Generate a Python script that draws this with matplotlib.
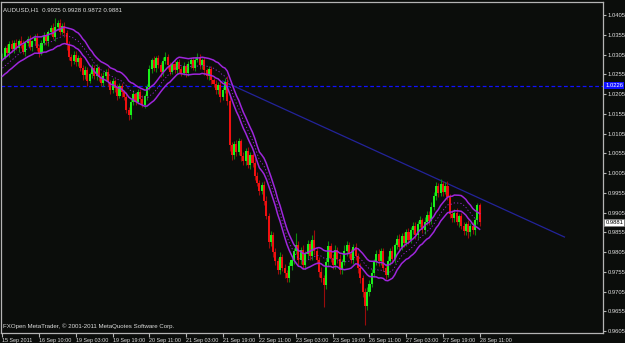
import numpy as np
import pandas as pd
import matplotlib
matplotlib.use("Agg")
import matplotlib.pyplot as plt
from matplotlib.transforms import blended_transform_factory

plt.rcParams['font.family'] = ['Liberation Sans', 'DejaVu Sans']

# --- data (AUDUSD H1) ---
header = "AUDUSD,H1  0.9925 0.9928 0.9872 0.9881"
footer = "FXOpen MetaTrader, \u00a9 2001-2011 MetaQuotes Software Corp."

time_labels = ["15 Sep 2011", "16 Sep 10:00", "19 Sep 03:00", "19 Sep 19:00",
               "20 Sep 11:00", "21 Sep 03:00", "21 Sep 19:00", "22 Sep 11:00",
               "23 Sep 03:00", "23 Sep 19:00", "26 Sep 11:00", "27 Sep 03:00",
               "27 Sep 19:00", "28 Sep 11:00"]
label_step = 16  # one time label every 16 bars

# bars before the first visible candle, only used to warm up the moving average
prior_closes = [1.0245, 1.0252, 1.0248, 1.0258, 1.0262, 1.0255, 1.0268,
                1.0275, 1.0270, 1.0282, 1.0290, 1.0285, 1.0298]

closes = [
    1.0300, 1.0322, 1.0310, 1.0331, 1.0318, 1.0335, 1.0322, 1.0340, 1.0328, 1.0312, 1.0333, 1.0344, 1.0325, 1.0338, 1.0348, 1.0322,
    1.0310, 1.0335, 1.0352, 1.0338, 1.0362, 1.0372, 1.0350, 1.0375, 1.0385, 1.0362, 1.0378, 1.0360, 1.0328, 1.0300, 1.0288, 1.0305,
    1.0285, 1.0296, 1.0270, 1.0252, 1.0265, 1.0238, 1.0255, 1.0272, 1.0250, 1.0270, 1.0248, 1.0232, 1.0250, 1.0262, 1.0235, 1.0215,
    1.0238, 1.0220, 1.0200, 1.0225, 1.0210, 1.0198, 1.0165, 1.0152, 1.0185, 1.0205, 1.0185, 1.0210, 1.0192, 1.0178, 1.0200, 1.0222,
    1.0268, 1.0290, 1.0270, 1.0295, 1.0278, 1.0260, 1.0288, 1.0300, 1.0278, 1.0262, 1.0280, 1.0265, 1.0285, 1.0268, 1.0258, 1.0275,
    1.0258, 1.0280, 1.0290, 1.0272, 1.0292, 1.0298, 1.0278, 1.0290, 1.0265, 1.0250, 1.0268, 1.0240, 1.0230, 1.0215, 1.0228, 1.0198,
    1.0215, 1.0235, 1.0188, 1.0075, 1.0050, 1.0078, 1.0058, 1.0085, 1.0048, 1.0035, 1.0062, 1.0025, 1.0050, 1.0030, 0.9998, 0.9980,
    0.9960, 0.9975, 0.9935, 0.9895, 0.9830, 0.9848, 0.9805, 0.9782, 0.9760, 0.9792, 0.9765, 0.9752, 0.9738, 0.9770, 0.9785, 0.9808,
    0.9822, 0.9785, 0.9810, 0.9772, 0.9800, 0.9825, 0.9795, 0.9835, 0.9808, 0.9785, 0.9755, 0.9738, 0.9722, 0.9780, 0.9820, 0.9790,
    0.9772, 0.9810, 0.9788, 0.9760, 0.9780, 0.9808, 0.9822, 0.9800, 0.9785, 0.9818, 0.9795, 0.9765, 0.9740, 0.9705, 0.9668, 0.9705,
    0.9725, 0.9752, 0.9780, 0.9800, 0.9782, 0.9808, 0.9765, 0.9748, 0.9782, 0.9808, 0.9788, 0.9822, 0.9838, 0.9818, 0.9845, 0.9828,
    0.9855, 0.9835, 0.9862, 0.9870, 0.9848, 0.9875, 0.9885, 0.9862, 0.9882, 0.9900, 0.9884, 0.9920, 0.9948, 0.9972, 0.9955, 0.9978,
    0.9958, 0.9972, 0.9945, 0.9902, 0.9890, 0.9905, 0.9880, 0.9895, 0.9872, 0.9858, 0.9875, 0.9855, 0.9870, 0.9860, 0.9885, 0.9925,
    0.9881,
]

# wick lengths beyond the candle body, in pips
upper_wick_pips = [
    8, 5, 10, 7, 12, 6, 9, 5, 11, 14, 6, 8, 10, 5, 9, 12,
    7, 6, 10, 8, 6, 9, 12, 22, 8, 10, 6, 9, 7, 10, 6, 8,
    10, 7, 6, 9, 12, 8, 6, 10, 7, 12, 6, 9, 11, 7, 10, 6,
    8, 6, 11, 7, 9, 6, 12, 8, 7, 10, 6, 9, 7, 11, 6, 8,
    10, 7, 12, 6, 9, 7, 10, 11, 6, 8, 7, 10, 6, 9, 7, 10,
    6, 9, 7, 10, 6, 11, 8, 7, 10, 6, 9, 7, 6, 10, 7, 9,
    7, 10, 16, 12, 9, 7, 10, 8, 6, 11, 7, 10, 8, 6, 12, 10,
    8, 7, 10, 12, 9, 11, 7, 10, 8, 12, 7, 10, 8, 11, 10, 7,
    30, 10, 8, 12, 7, 11, 8, 14, 25, 10, 7, 11, 8, 10, 12, 8,
    10, 13, 7, 11, 8, 14, 10, 8, 12, 7, 10, 8, 11, 7, 10, 12,
    8, 10, 7, 11, 12, 8, 7, 10, 13, 8, 11, 7, 10, 12, 8, 10,
    8, 11, 7, 10, 12, 8, 10, 7, 11, 8, 10, 12, 8, 10, 7, 11,
    8, 10, 14, 7, 10, 8, 11, 7, 10, 8, 7, 11, 8, 10, 7, 3,
    3,
]
lower_wick_pips = [
    9, 7, 6, 10, 7, 9, 6, 11, 7, 6, 10, 7, 9, 12, 6, 7,
    10, 7, 6, 9, 11, 7, 6, 10, 9, 7, 6, 10, 12, 9, 11, 7,
    9, 10, 7, 11, 9, 12, 6, 9, 7, 10, 9, 7, 6, 11, 9, 10,
    7, 9, 10, 6, 12, 9, 7, 14, 10, 7, 9, 6, 10, 7, 9, 11,
    7, 9, 6, 10, 7, 12, 9, 7, 10, 9, 6, 7, 10, 9, 7, 6,
    9, 7, 10, 6, 9, 7, 10, 9, 11, 7, 9, 10, 7, 9, 10, 12,
    9, 7, 10, 14, 11, 9, 10, 7, 12, 9, 10, 7, 11, 9, 10, 7,
    10, 9, 11, 7, 14, 10, 12, 9, 11, 10, 9, 12, 10, 9, 11, 10,
    9, 12, 10, 11, 9, 12, 10, 9, 11, 10, 12, 9, 55, 10, 11, 9,
    10, 9, 12, 11, 10, 9, 12, 10, 9, 11, 10, 12, 14, 14, 48, 9,
    11, 9, 10, 7, 12, 10, 9, 11, 7, 10, 9, 12, 10, 9, 7, 10,
    9, 10, 7, 11, 9, 10, 7, 9, 12, 9, 10, 7, 9, 11, 10, 9,
    10, 7, 9, 11, 9, 10, 7, 12, 9, 10, 11, 14, 10, 9, 11, 10,
    9,
]

ma_period = 14
envelope_pct = 0.2
hline_level = 1.0226
trend_points = ([96, 245], [1.0238, 0.9843])  # (bar index, price)

# --- colours ---
BG = '#0b0d0b'
FRAME = '#b4b4b4'
TXT = '#dedede'
BULL, BULL_WICK = '#19f019', '#0c8a0c'
BEAR, BEAR_WICK = '#f01010', '#9a0c0c'
ENV = '#9e26dc'
FS = 4.2

pip = 0.0001
c = np.array(closes)
o = np.array([prior_closes[-1]] + closes[:-1])
h = np.maximum(o, c) + np.array(upper_wick_pips) * pip
l = np.minimum(o, c) - np.array(lower_wick_pips) * pip
idx = np.arange(len(c))
up = c >= o

ma = pd.Series(prior_closes + closes).rolling(ma_period).mean().to_numpy()[len(prior_closes):]

fig = plt.figure(figsize=(6.25, 3.43), dpi=100, facecolor=BG)
ax = fig.add_axes([1 / 625, 10 / 343, 602 / 625, 331 / 343], facecolor=BG)

ax.axhline(hline_level, color='#1010ff', lw=0.9, ls=(0, (3, 2)), zorder=1)
ax.plot(*trend_points, color='#23239a', lw=0.9, zorder=1)

# envelopes + dotted middle average
ax.plot(idx, ma * (1 + envelope_pct / 100), color=ENV, lw=1.1, zorder=3)
ax.plot(idx, ma * (1 - envelope_pct / 100), color=ENV, lw=1.1, zorder=3)
ax.plot(idx, ma, color=ENV, lw=0.6, ls=(0, (1.5, 2.5)), zorder=3)

# candles
ax.vlines(idx[up], l[up], h[up], color=BULL_WICK, lw=0.8, zorder=2)
ax.vlines(idx[~up], l[~up], h[~up], color=BEAR_WICK, lw=0.8, zorder=2)
ax.bar(idx[up], np.maximum(c - o, 0.00008)[up], bottom=o[up], width=0.9,
       color=BULL, lw=0, zorder=2)
ax.bar(idx[~up], (o - c)[~up], bottom=c[~up], width=0.9,
       color=BEAR, lw=0, zorder=2)

ax.set_xlim(-0.65, 261.8)
ax.set_ylim(0.9600, 1.0438)

for s in ax.spines.values():
    s.set_color(FRAME)
    s.set_linewidth(0.9)

yt = np.round(np.arange(0.9605, 1.0406, 0.005), 4)
ax.yaxis.tick_right()
ax.set_yticks(yt)
ax.set_yticklabels([f"{v:.4f}" for v in yt])
ax.tick_params(axis='y', colors=FRAME, labelcolor=TXT, labelsize=FS,
               length=2.5, width=0.8, pad=1.0)

ax.set_xticks(np.arange(len(time_labels)) * label_step)
ax.set_xticklabels(time_labels, ha='left')
ax.tick_params(axis='x', colors=FRAME, labelcolor=TXT, labelsize=3.9,
               length=3, width=0.8, pad=0.5)

# price tags on the right scale
tr = blended_transform_factory(ax.transAxes, ax.transData)
ax.text(1.004, hline_level, f"{hline_level:.4f}", transform=tr, color='white',
        fontsize=FS, va='center', ha='left', clip_on=False,
        bbox=dict(facecolor='#1010ff', edgecolor='none', pad=0.7))
ax.text(1.004, closes[-1], f"{closes[-1]:.4f}", transform=tr, color='black',
        fontsize=FS, va='center', ha='left', clip_on=False,
        bbox=dict(facecolor='white', edgecolor='#808080', lw=0.5, pad=0.7))

ax.text(0.004, 0.985, header, transform=ax.transAxes, color=TXT,
        fontsize=4.4, va='top', ha='left')
ax.text(0.004, 0.012, footer, transform=ax.transAxes, color=TXT,
        fontsize=4.4, va='bottom', ha='left')

fig.savefig('out.png', dpi=100, facecolor=BG)
